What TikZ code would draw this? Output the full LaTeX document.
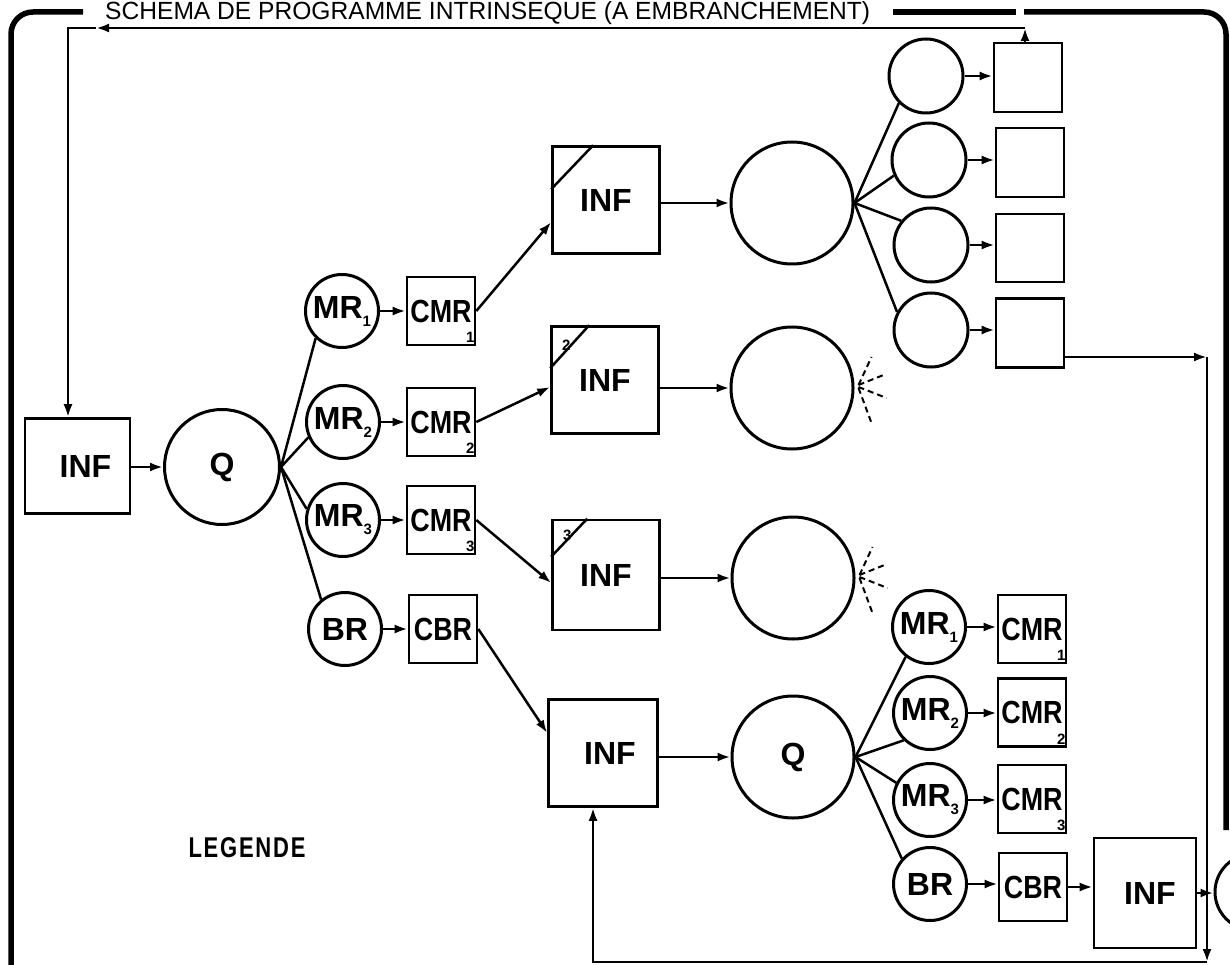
\documentclass[tikz,border=0pt]{standalone}
\usepackage{fontspec}
\setmainfont{Liberation Sans}
\usetikzlibrary{arrows.meta,calc}
\begin{document}
\begin{tikzpicture}[x=1pt,y=-1pt,
  every node/.style={font=\fontsize{32}{32}\selectfont\bfseries},
  ln/.style={line width=2.5pt},
  arr/.style={ln,-{Latex[length=13pt,width=9pt]}},
  bx/.style={draw,line width=2.6pt,inner sep=0pt},
  infbox/.style={bx,minimum width=107pt,minimum height=107pt},
  cbox/.style={bx,minimum width=68pt,minimum height=68pt},
  cc/.style={draw,circle,line width=3pt,inner sep=0pt},
  smallc/.style={cc,minimum size=73pt},
  bigc/.style={cc,minimum size=122pt},
  subn/.style={font=\fontsize{15}{15}\selectfont\bfseries,inner sep=0pt},
  ray/.style={line width=2pt,dash pattern=on 6pt off 4pt},
  framel/.style={line width=5.5pt}
]
\useasboundingbox (0,0) rectangle (1230,965);

% frame and title
\draw[framel,rounded corners=22pt] (83,12) -- (11,12) -- (11,965);
\draw[framel] (893,12) -- (1016,12);
\draw[framel,rounded corners=22pt] (1024,12) -- (1226,12) -- (1226,830);
\node[anchor=base west,inner sep=0pt] (title) at (105,20)
  {\resizebox{765pt}{18pt}{\fontsize{20}{20}\selectfont\mdseries SCHEMA DE PROGRAMME INTRINSEQUE (A EMBRANCHEMENT)}};

% left part
\node[bx,minimum width=105pt,minimum height=95pt] (INF0) at (77.5,466) {\hspace{16pt}INF};
\node[cc,minimum size=115pt] (Q1) at (222,467) {Q};

\node[smallc] (MR1a) at (342,311) {MR\raisebox{-8pt}{\fontsize{15}{15}\selectfont 1}};
\node[smallc] (MR2a) at (343,422) {MR\raisebox{-8pt}{\fontsize{15}{15}\selectfont 2}};
\node[smallc] (MR3a) at (343,520) {MR\raisebox{-8pt}{\fontsize{15}{15}\selectfont 3}};
\node[smallc] (BRa) at (345,629) {BR};

\node[cbox] (CMR1a) at (441,311) {\scalebox{0.84}[1]{CMR}};
\node[cbox] (CMR2a) at (441,422) {\scalebox{0.84}[1]{CMR}};
\node[cbox] (CMR3a) at (441,520) {\scalebox{0.84}[1]{CMR}};
\node[cbox] (CBRa) at (443,629) {\scalebox{0.84}[1]{CBR}};
\node[subn] (s1a) at ($(CMR1a.south east)+(-6,-9)$) {1};
\node[subn] (s2a) at ($(CMR2a.south east)+(-6,-9)$) {2};
\node[subn] (s3a) at ($(CMR3a.south east)+(-6,-9)$) {3};

% INF column
\node[infbox] (INF1) at (606,200) {INF};
\node[infbox] (INF2) at (605,380) {INF};
\node[bx,minimum width=107pt,minimum height=110pt] (INF3) at (606,575) {INF};
\node[bx,minimum width=109pt,minimum height=107pt] (INF4) at (603,753) {\hspace{14pt}INF};
\draw[ln] ($(INF1.north west)+(0,44)$) -- ($(INF1.north west)+(42,0)$);
\draw[ln] ($(INF2.north west)+(0,43)$) -- ($(INF2.north west)+(39,0)$);
\draw[ln] ($(INF3.north west)+(0,38)$) -- ($(INF3.north west)+(36,0)$);
\node[subn] (n2) at ($(INF2.north west)+(16,20)$) {2};
\node[subn] (n3) at ($(INF3.north west)+(16,17)$) {3};

% big circles
\node[bigc] (C1) at (792,203) {};
\node[bigc] (C2) at (792,388) {};
\node[bigc] (C3) at (793,578) {};
\node[bigc] (Q2) at (793,757) {Q};

% top right
\node[cc,minimum size=74pt] (c1) at (926,76) {};
\node[cc,minimum size=74pt] (c2) at (929,160) {};
\node[cc,minimum size=74pt] (c3) at (931,245) {};
\node[cc,minimum size=74pt] (c4) at (931,330) {};
\node[bx,minimum width=68pt,minimum height=69pt] (b1) at (1028,77.5) {};
\node[bx,minimum width=68pt,minimum height=69pt] (b2) at (1030,162.5) {};
\node[bx,minimum width=68pt,minimum height=68pt] (b3) at (1030,248) {};
\node[bx,minimum width=68pt,minimum height=69pt] (b4) at (1030,333) {};

% bottom right
\node[smallc] (MR1b) at (929,627) {MR\raisebox{-8pt}{\fontsize{15}{15}\selectfont 1}};
\node[smallc] (MR2b) at (930,713) {MR\raisebox{-8pt}{\fontsize{15}{15}\selectfont 2}};
\node[smallc] (MR3b) at (930,800) {MR\raisebox{-8pt}{\fontsize{15}{15}\selectfont 3}};
\node[smallc] (BRb) at (930,884) {BR};
\node[cbox] (CMR1b) at (1032,629) {\scalebox{0.84}[1]{CMR}};
\node[cbox] (CMR2b) at (1032,712.5) {\scalebox{0.84}[1]{CMR}};
\node[cbox] (CMR3b) at (1032,799) {\scalebox{0.84}[1]{CMR}};
\node[cbox] (CBRb) at (1033,887) {\scalebox{0.84}[1]{CBR}};
\node[subn] (s1b) at ($(CMR1b.south east)+(-6,-9)$) {1};
\node[subn] (s2b) at ($(CMR2b.south east)+(-6,-9)$) {2};
\node[subn] (s3b) at ($(CMR3b.south east)+(-6,-9)$) {3};
\node[bx,minimum width=102pt,minimum height=110pt] (INF5) at (1145,893) {\hspace{10pt}INF};
\node[cc,minimum size=76pt] (PC) at (1253,892) {};

\node[font=\fontsize{22}{22}\selectfont\bfseries\addfontfeature{LetterSpace=8}] (leg) at (247,848) {\scalebox{1}[1.3]{LEGENDE}};

% coordinates
\coordinate (tr) at (1025,28);
\coordinate (tm) at (96,28);
\coordinate (tl) at (68,28);
\coordinate (rc) at (1207,357);
\coordinate (rb) at (1207,962);
\coordinate (bl) at (593,962);

% connectors
\draw[arr] (Q1.west -| INF0.east) -- (Q1.west);
\draw[ln] (Q1.east) -- (MR1a.226);
\draw[ln] (Q1.east) -- (MR2a.204);
\draw[ln] (Q1.east) -- (MR3a.163);
\draw[ln] (Q1.east) -- (BRa.129);
\draw[arr] (MR1a) -- (CMR1a);
\draw[arr] (MR2a) -- (CMR2a);
\draw[arr] (MR3a) -- (CMR3a);
\draw[arr] (BRa) -- (CBRa);
\draw[arr] (CMR1a.east) -- ($(INF1.west)+(0,22)$);
\draw[arr] (CMR2a.east) -- ($(INF2.west)+(0,7)$);
\draw[arr] (CMR3a.east) -- ($(INF3.west)+(0,8)$);
\draw[arr] (CBRa.east) -- ($(INF4.west)+(0,-20)$);
\draw[arr] (C1.west -| INF1.east) -- (C1.west);
\draw[arr] (C2.west -| INF2.east) -- (C2.west);
\draw[arr] (C3.west -| INF3.east) -- (C3.west);
\draw[arr] (Q2.west -| INF4.east) -- (Q2.west);

\draw[ln] (C1.east) -- (c1.225);
\draw[ln] (C1.east) -- (c2.204);
\draw[ln] (C1.east) -- (c3.141);
\draw[ln] (C1.east) -- (c4.152);
\draw[arr] (c1) -- (c1 -| b1.west);
\draw[arr] (c2) -- (c2 -| b2.west);
\draw[arr] (c3) -- (c3 -| b3.west);
\draw[arr] (c4) -- (c4 -| b4.west);

\foreach \c in {C2,C3}{
  \draw[ray] ($(\c.east)+(4,-3)$) -- ($(\c.east)+(17,-31)$);
  \draw[ray] ($(\c.east)+(4,-3)$) -- ($(\c.east)+(29,-13)$);
  \draw[ray] ($(\c.east)+(4,-1)$) -- ($(\c.east)+(32,10)$);
  \draw[ray] ($(\c.east)+(4,0)$) -- ($(\c.east)+(17,35)$);
}

\draw[ln] (Q2.east) -- (MR1b.232);
\draw[ln] (Q2.east) -- (MR2b.226);
\draw[ln] (Q2.east) -- (MR3b.153);
\draw[ln] (Q2.east) -- (BRb.138);
\draw[arr] (MR1b) -- (MR1b -| CMR1b.west);
\draw[arr] (MR2b) -- (MR2b -| CMR2b.west);
\draw[arr] (MR3b) -- (MR3b -| CMR3b.west);
\draw[arr] (BRb) -- (BRb -| CBRb.west);
\draw[arr] (CBRb.east) -- (CBRb.east -| INF5.west);
\draw[arr] (INF5.east) -- (INF5.east -| PC.west);

% feedback loops
\draw[arr] (b1.north -| tr) -- (tr);
\draw[arr] (tr) -- (tm);
\draw[arr] (tm) -- (tl) -- (INF0.north -| tl);
\draw[arr] (b4.east |- rc) -- (rc);
\draw[arr] (rc) -- (rb);
\draw[arr] (rb) -- (bl) -- (INF4.south -| bl);
\end{tikzpicture}
\end{document}
